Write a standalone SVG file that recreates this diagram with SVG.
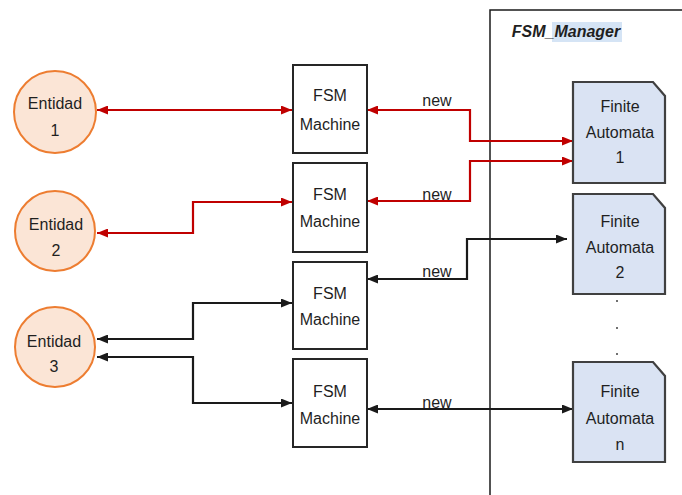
<svg xmlns="http://www.w3.org/2000/svg" width="682" height="495" viewBox="0 0 682 495">
<defs>
<style>
text{font-family:"Liberation Sans",Arial,sans-serif;font-size:16px;fill:#1f1f1f;text-anchor:middle}
.ent{fill:#fbe5d6;stroke:#ed7d31;stroke-width:2}
.fsm{fill:#fff;stroke:#262626;stroke-width:2}
.fa{fill:#dae3f3;stroke:#404040;stroke-width:2.2}
.red{fill:none;stroke:#c00000;stroke-width:2.2}
.blk{fill:none;stroke:#1a1a1a;stroke-width:2.2}
.mgr{fill:none;stroke:#1a1a1a;stroke-width:1.5}
</style>
<marker id="ar" viewBox="0 0 11 9" refX="11" refY="4.5" markerWidth="11" markerHeight="9" markerUnits="userSpaceOnUse" orient="auto-start-reverse"><path d="M0,0 L11,4.5 L0,9 z" fill="#c00000"/></marker>
<marker id="ab" viewBox="0 0 11 9" refX="11" refY="4.5" markerWidth="11" markerHeight="9" markerUnits="userSpaceOnUse" orient="auto-start-reverse"><path d="M0,0 L11,4.5 L0,9 z" fill="#1a1a1a"/></marker>
</defs>
<rect width="682" height="495" fill="#fff"/>
<g id="manager">
<path class="mgr" d="M490,495 V10 H682"/>
<rect x="552" y="22" width="70" height="20" fill="#d5e4f5"/>
<text x="566" y="37" font-style="italic" font-weight="bold" font-size="15">FSM_Manager</text>
</g>
<g id="connectors">
<path class="red" d="M97,110 H292" marker-start="url(#ar)" marker-end="url(#ar)"/>
<path class="red" d="M97,233 H193 V202 H292" marker-start="url(#ar)" marker-end="url(#ar)"/>
<path class="red" d="M367,110 H470 V141 H573" marker-start="url(#ar)" marker-end="url(#ar)"/>
<path class="red" d="M367,201 H470 V161 H573" marker-start="url(#ar)" marker-end="url(#ar)"/>
<path class="blk" d="M367,279 H467 V239 H567" marker-start="url(#ab)" marker-end="url(#ab)"/>
<path class="blk" d="M367,409 H573" marker-start="url(#ab)" marker-end="url(#ab)"/>
<path class="blk" d="M97,339 H193 V303 H292" marker-start="url(#ab)" marker-end="url(#ab)"/>
<path class="blk" d="M97,357 H193 V403 H292" marker-start="url(#ab)" marker-end="url(#ab)"/>
<text x="437" y="106">new</text>
<text x="437" y="200">new</text>
<text x="437" y="277">new</text>
<text x="437" y="408">new</text>
</g>
<g id="entidad1"><circle class="ent" cx="55" cy="112" r="41"/><text x="55" y="109">Entidad</text><text x="55" y="136">1</text></g>
<g id="entidad2"><circle class="ent" cx="55" cy="231" r="40"/><text x="56" y="230">Entidad</text><text x="56" y="256">2</text></g>
<g id="entidad3"><circle class="ent" cx="55" cy="347" r="40"/><text x="54" y="347">Entidad</text><text x="54" y="372">3</text></g>
<g id="fsm1"><rect class="fsm" x="293" y="65" width="74" height="88"/><text x="330" y="101">FSM</text><text x="330" y="130">Machine</text></g>
<g id="fsm2"><rect class="fsm" x="293" y="163" width="74" height="89"/><text x="330" y="200">FSM</text><text x="330" y="227">Machine</text></g>
<g id="fsm3"><rect class="fsm" x="293" y="262" width="74" height="87"/><text x="330" y="299">FSM</text><text x="330" y="325">Machine</text></g>
<g id="fsm4"><rect class="fsm" x="293" y="359" width="74" height="88"/><text x="330" y="397">FSM</text><text x="330" y="424">Machine</text></g>
<g id="fa1"><path class="fa" d="M573,82 H653 L665,96 V183 H573 Z"/><text x="620" y="112">Finite</text><text x="620" y="138">Automata</text><text x="620" y="163">1</text></g>
<g id="fa2"><path class="fa" d="M573,194 H653 L665,208 V294 H573 Z"/><text x="620" y="227">Finite</text><text x="620" y="253">Automata</text><text x="620" y="278">2</text></g>
<g id="dots" fill="#404040"><circle cx="617" cy="301" r="1"/><circle cx="617" cy="328" r="1"/><circle cx="617" cy="354" r="1"/></g>
<g id="fan"><path class="fa" d="M573,362 H653 L665,376 V462 H573 Z"/><text x="620" y="397">Finite</text><text x="620" y="424">Automata</text><text x="620" y="450">n</text></g>
</svg>
